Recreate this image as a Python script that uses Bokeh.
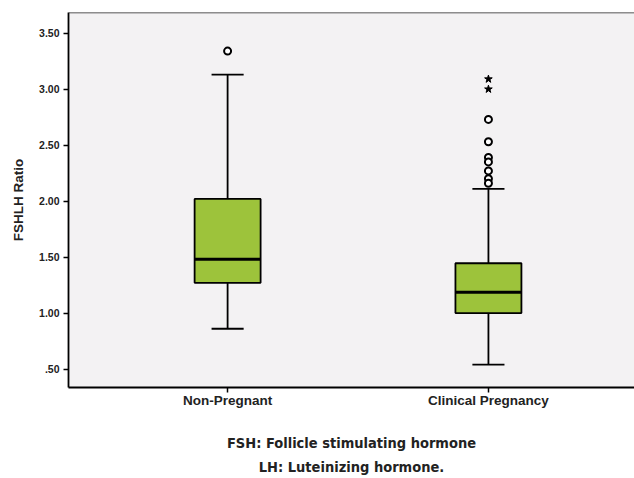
from bokeh.plotting import figure
from bokeh.models import Range1d, FixedTicker, Span, Title, ColumnDataSource
from bokeh.embed import file_html
from bokeh.resources import INLINE

# ---- data ----
categories = ["Non-Pregnant", "Clinical Pregnancy"]
q1 = [1.27, 1.00]
median = [1.48, 1.185]
q3 = [2.02, 1.445]
whisker_low = [0.86, 0.54]
whisker_high = [3.13, 2.11]
outliers_nonpreg = [3.34]
outliers_preg = [2.73, 2.53, 2.39, 2.35, 2.27, 2.20, 2.16]
extremes_preg = [3.09, 3.00]
y_ticks = [0.5, 1.0, 1.5, 2.0, 2.5, 3.0, 3.5]
y_tick_labels = [".50", "1.00", "1.50", "2.00", "2.50", "3.00", "3.50"]
caption_lines = ["FSH: Follicle stimulating hormone", "LH: Luteinizing hormone."]

pos = [i + 1 for i in range(len(categories))]
BOX_W = 0.253
CAP_W = 0.123
GREEN = "#9dc33b"
AX_FONT = "Liberation Sans"

p = figure(width=634, height=478, output_backend="svg", toolbar_location=None,
           x_range=Range1d(0.39, 2.56), y_range=Range1d(0.335, 3.685),
           min_border_left=68, min_border_top=12, min_border_right=0, min_border_bottom=91,
           background_fill_color="#f3f2f3", border_fill_color="white")
p.outline_line_color = None
p.grid.visible = False

src = ColumnDataSource(dict(x=pos, q1=q1, med=median, q3=q3, lo=whisker_low, hi=whisker_high,
                            cl=[x - CAP_W / 2 for x in pos], cr=[x + CAP_W / 2 for x in pos],
                            bl=[x - BOX_W / 2 for x in pos], br=[x + BOX_W / 2 for x in pos]))

# whiskers
p.segment(x0="x", y0="q3", x1="x", y1="hi", source=src, line_color="black", line_width=1.8)
p.segment(x0="x", y0="lo", x1="x", y1="q1", source=src, line_color="black", line_width=1.8)
p.segment(x0="cl", y0="hi", x1="cr", y1="hi", source=src, line_color="black", line_width=1.8)
p.segment(x0="cl", y0="lo", x1="cr", y1="lo", source=src, line_color="black", line_width=1.8)
# boxes
p.vbar(x="x", width=BOX_W, bottom="q1", top="q3", source=src,
       fill_color=GREEN, line_color="black", line_width=1.8)
# medians
p.segment(x0="bl", y0="med", x1="br", y1="med", source=src, line_color="black", line_width=3)

# outliers
p.scatter(x=[pos[0]] * len(outliers_nonpreg), y=outliers_nonpreg, marker="circle", size=7,
          fill_color="white", line_color="black", line_width=2)
p.scatter(x=[pos[1]] * len(outliers_preg), y=outliers_preg, marker="circle", size=7,
          fill_color="white", line_color="black", line_width=2)
p.scatter(x=[pos[1]] * len(extremes_preg), y=extremes_preg, marker="star", size=8,
          fill_color="black", line_color="black", line_width=1)

# top border
p.add_layout(Span(location=3.685, dimension="width", line_color="#222222", line_width=1.5))

# axes
p.xaxis.ticker = FixedTicker(ticks=pos)
p.xaxis.major_label_overrides = {pos[i]: categories[i] for i in range(len(categories))}
p.yaxis.ticker = FixedTicker(ticks=y_ticks)
p.yaxis.major_label_overrides = {y_ticks[i]: y_tick_labels[i] for i in range(len(y_ticks))}
for ax in (p.xaxis, p.yaxis):
    ax.axis_line_color = "black"
    ax.axis_line_width = 1.8
    ax.major_tick_line_color = "black"
    ax.major_tick_line_width = 1.5
    ax.major_tick_in = 0
    ax.major_tick_out = 5
    ax.minor_tick_line_color = None
    ax.major_label_text_font = AX_FONT
    ax.major_label_text_font_style = "bold"
    ax.major_label_text_color = "#222222"
p.xaxis.major_label_text_font_size = "13.5px"
p.xaxis.major_label_standoff = 0
# blank axis label used only as spacing between tick labels and caption
p.xaxis.axis_label = " "
p.xaxis.axis_label_text_font_size = "10px"
p.xaxis.axis_label_standoff = 5
p.yaxis.major_label_text_font_size = "10.5px"
p.yaxis.major_label_standoff = 4
p.yaxis.axis_label = "FSHLH Ratio"
p.yaxis.axis_label_text_font = AX_FONT
p.yaxis.axis_label_text_font_style = "bold"
p.yaxis.axis_label_text_font_size = "13.5px"
p.yaxis.axis_label_text_color = "#222222"
p.yaxis.axis_label_standoff = 10

for i, line in enumerate(caption_lines):
    p.add_layout(Title(text=line, align="center", text_font="DejaVu Sans Condensed",
                       text_font_style="bold", text_font_size="14.5px", text_color="#222222",
                       standoff=6 if i == 0 else 6), "below")

open("out.html", "w").write(file_html(p, INLINE))
